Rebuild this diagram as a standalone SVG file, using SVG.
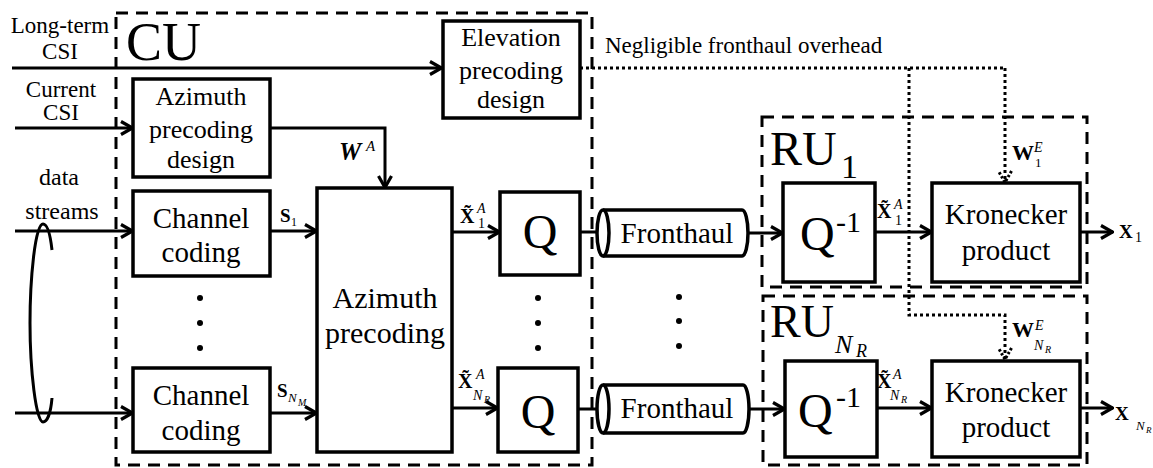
<svg xmlns="http://www.w3.org/2000/svg" width="1153" height="468" viewBox="0 0 1153 468">
<defs>
<style>
text{font-family:"Liberation Serif","Times New Roman",serif;fill:#000}
.box{fill:#fff;stroke:#000;stroke-width:3.5}
.dash{fill:none;stroke:#000;stroke-width:3;stroke-dasharray:12 8}
.dot{fill:none;stroke:#000;stroke-width:3;stroke-dasharray:3 3}
.ln{fill:none;stroke:#000;stroke-width:3}
.arr{marker-end:url(#ah)}
.darr{marker-end:url(#dah)}
.m{text-anchor:middle}
.bi{font-weight:bold;font-style:italic}
.b{font-weight:bold}
.i{font-style:italic}
.lab{font-size:23px}
.blk{font-size:29px}
</style>
<marker id="ah" viewBox="0 0 14 16" refX="13" refY="8" markerWidth="14" markerHeight="16" markerUnits="userSpaceOnUse" orient="auto"><path d="M1,1.5 L12.5,8 L1,14.5" fill="none" stroke="#000" stroke-width="3.2"/></marker>
<marker id="dah" viewBox="0 0 14 16" refX="13" refY="8" markerWidth="14" markerHeight="16" markerUnits="userSpaceOnUse" orient="auto"><path d="M1,1.5 L12.5,8 L1,14.5" fill="none" stroke="#000" stroke-width="3" stroke-dasharray="2.5 2"/></marker>
</defs>
<rect width="1153" height="468" fill="#fff"/>

<g id="cu">
<rect class="dash" x="116" y="13" width="476" height="452"/>
<text x="126" y="60" font-size="54">CU</text>
</g>
<g id="ru1">
<rect class="dash" x="762" y="117" width="325" height="170"/>
<text x="770" y="165" font-size="48">RU</text>
<text x="841" y="178" font-size="34">1</text>
</g>
<g id="ruN">
<rect class="dash" x="763" y="296" width="324" height="169"/>
<text x="770" y="337" font-size="46">RU</text>
<text x="835" y="353" font-size="26" class="i">N</text>
<text x="856" y="357" font-size="18" class="i">R</text>
</g>

<g id="inputs">
<text class="m lab" x="60" y="33">Long-term</text>
<text class="m lab" x="60" y="59">CSI</text>
<text class="m lab" x="61" y="97">Current</text>
<text class="m lab" x="61" y="120">CSI</text>
<text class="m" x="59" y="185" font-size="24">data</text>
<text class="m" x="62" y="219" font-size="24">streams</text>
<path class="ln" d="M52,250 C50,232 47,224 43,224 C35,224 30,280 30,323 C30,370 36,422 43,422 C48,422 51,410 52,398"/>
</g>

<g id="connectors">
<line class="ln arr" x1="12" y1="68" x2="442" y2="68"/>
<line class="ln arr" x1="15" y1="128" x2="133" y2="128"/>
<line class="ln arr" x1="15" y1="231" x2="133" y2="231"/>
<line class="ln arr" x1="15" y1="413" x2="133" y2="413"/>
<polyline class="ln arr" points="270,128 385,128 385,188"/>
<line class="ln arr" x1="270" y1="231" x2="317" y2="231"/>
<line class="ln arr" x1="270" y1="413" x2="317" y2="413"/>
<line class="ln arr" x1="452" y1="232" x2="500" y2="232"/>
<line class="ln arr" x1="452" y1="408" x2="498" y2="408"/>
<line class="ln" x1="580" y1="232" x2="597" y2="232"/>
<line class="ln" x1="578" y1="409" x2="597" y2="409"/>
<line class="ln arr" x1="748" y1="233" x2="783" y2="233"/>
<line class="ln arr" x1="749" y1="409" x2="785" y2="409"/>
<line class="ln arr" x1="875" y1="232" x2="932" y2="232"/>
<line class="ln arr" x1="877" y1="408" x2="932" y2="408"/>
<line class="ln arr" x1="1080" y1="232" x2="1113" y2="232"/>
<line class="ln arr" x1="1080" y1="408" x2="1113" y2="408"/>
<polyline class="dot" points="580,68 1005,68"/>
<line class="dot darr" x1="1005" y1="68" x2="1005" y2="183"/>
<polyline class="dot darr" points="909,68 909,315 1005,315 1005,360"/>
<text class="lab" x="605" y="53">Negligible fronthaul overhead</text>
<text x="339" y="160" font-size="25" class="bi">W</text>
<text x="366" y="151" font-size="15" class="i">A</text>
<text x="280" y="222" font-size="19" class="b">S</text>
<text x="291" y="226" font-size="12">1</text>
<text x="277" y="397" font-size="19" class="b">S</text>
<text x="288" y="402" font-size="13" class="i">N</text>
<text x="298" y="406" font-size="10" class="i">M</text>
<text x="460" y="223" font-size="20" class="b">X̃</text>
<text x="477" y="213" font-size="14" class="i">A</text>
<text x="478" y="228" font-size="14">1</text>
<text x="458" y="388" font-size="20" class="b">X̃</text>
<text x="476" y="379" font-size="14" class="i">A</text>
<text x="473" y="400" font-size="14" class="i">N</text>
<text x="484" y="403" font-size="10" class="i">R</text>
<text x="877" y="218" font-size="20" class="b">X̃</text>
<text x="894" y="209" font-size="14" class="i">A</text>
<text x="895" y="225" font-size="14">1</text>
<text x="877" y="388" font-size="20" class="b">X̃</text>
<text x="893" y="379" font-size="14" class="i">A</text>
<text x="890" y="400" font-size="14" class="i">N</text>
<text x="901" y="403" font-size="10" class="i">R</text>
<text x="1012" y="160" font-size="22" class="b">W</text>
<text x="1034" y="152" font-size="14" class="i">E</text>
<text x="1035" y="167" font-size="13">1</text>
<text x="1012" y="337" font-size="22" class="b">W</text>
<text x="1035" y="330" font-size="14" class="i">E</text>
<text x="1034" y="350" font-size="14" class="i">N</text>
<text x="1045" y="353" font-size="10" class="i">R</text>
<text x="1119" y="238" font-size="19" class="b">X</text>
<text x="1135" y="242" font-size="14">1</text>
<text x="1115" y="420" font-size="19" class="b">X</text>
<text x="1136" y="430" font-size="13" class="i">N</text>
<text x="1146" y="433" font-size="9" class="i">R</text>
</g>

<g id="elev">
<rect class="box" x="443" y="21" width="137" height="97"/>
<text class="m" x="511" y="46" font-size="26">Elevation</text>
<text class="m" x="511" y="79" font-size="26">precoding</text>
<text class="m" x="511" y="108" font-size="26">design</text>
</g>
<g id="azd">
<rect class="box" x="133" y="79" width="137" height="98"/>
<text class="m" x="201" y="105" font-size="26">Azimuth</text>
<text class="m" x="201" y="138" font-size="26">precoding</text>
<text class="m" x="201" y="168" font-size="26">design</text>
</g>
<g id="cc1">
<rect class="box" x="133" y="191" width="137" height="85"/>
<text class="m blk" x="201" y="228">Channel</text>
<text class="m blk" x="201" y="262">coding</text>
</g>
<g id="dots1">
<circle cx="200" cy="298" r="3"/><circle cx="200" cy="323" r="3"/><circle cx="200" cy="348" r="3"/>
</g>
<g id="cc2">
<rect class="box" x="133" y="368" width="137" height="84"/>
<text class="m blk" x="201" y="405">Channel</text>
<text class="m blk" x="201" y="440">coding</text>
</g>
<g id="azp">
<rect class="box" x="317" y="188" width="135" height="264"/>
<text class="m" x="385" y="308" font-size="30">Azimuth</text>
<text class="m" x="385" y="343" font-size="30">precoding</text>
</g>
<g id="q1">
<rect class="box" x="500" y="192" width="80" height="83"/>
<text class="m" x="540" y="248" font-size="48">Q</text>
</g>
<g id="dots2">
<circle cx="538" cy="298" r="3"/><circle cx="538" cy="323" r="3"/><circle cx="538" cy="348" r="3"/>
</g>
<g id="q2">
<rect class="box" x="498" y="368" width="80" height="84"/>
<text class="m" x="538" y="428" font-size="48">Q</text>
</g>
<g id="fh1">
<path class="box" d="M603,210 H742 A6,23 0 0 1 742,256 H603"/>
<ellipse class="box" cx="603" cy="233" rx="6" ry="23"/>
<text class="m blk" x="677" y="243">Fronthaul</text>
</g>
<g id="dots3">
<circle cx="679" cy="297" r="3"/><circle cx="679" cy="321" r="3"/><circle cx="679" cy="346" r="3"/>
</g>
<g id="fh2">
<path class="box" d="M603,385 H743 A6,24 0 0 1 743,433 H603"/>
<ellipse class="box" cx="603" cy="409" rx="6" ry="24"/>
<text class="m blk" x="677" y="418">Fronthaul</text>
</g>
<g id="qi1">
<rect class="box" x="783" y="183" width="92" height="99"/>
<text x="800" y="250" font-size="48">Q</text>
<text x="836" y="232" font-size="30">-1</text>
</g>
<g id="qi2">
<rect class="box" x="785" y="361" width="92" height="96"/>
<text x="798" y="427" font-size="48">Q</text>
<text x="836" y="407" font-size="30">-1</text>
</g>
<g id="kp1">
<rect class="box" x="932" y="183" width="148" height="99"/>
<text class="m blk" x="1006" y="224">Kronecker</text>
<text class="m blk" x="1006" y="260">product</text>
</g>
<g id="kp2">
<rect class="box" x="932" y="361" width="148" height="96"/>
<text class="m blk" x="1006" y="402">Kronecker</text>
<text class="m blk" x="1006" y="437">product</text>
</g>
</svg>
